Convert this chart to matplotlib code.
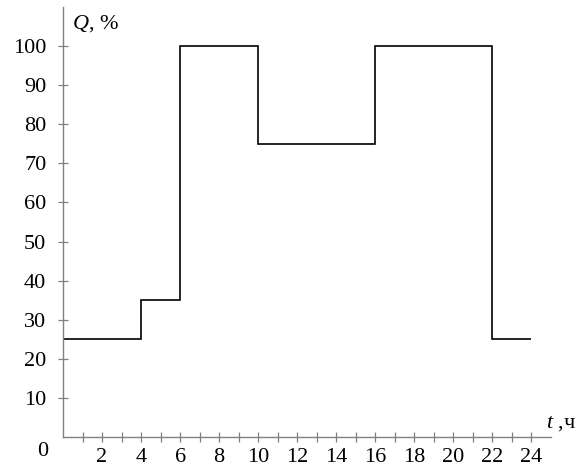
import matplotlib.pyplot as plt

plt.rcParams['font.family'] = ['Liberation Serif', 'DejaVu Serif']
plt.rcParams['mathtext.fontset'] = 'custom'
plt.rcParams['mathtext.rm'] = 'Liberation Serif'
plt.rcParams['mathtext.it'] = 'Liberation Serif:italic'

# step edges (hours) and load levels (%)
hours = [0, 4, 6, 10, 16, 22, 24]
load = [25, 35, 100, 75, 100, 25]
x_labels = [2, 4, 6, 8, 10, 12, 14, 16, 18, 20, 22, 24]
y_labels = [10, 20, 30, 40, 50, 60, 70, 80, 90, 100]

fig = plt.figure(figsize=(5.86, 4.70), dpi=100)
ax = fig.add_axes([0.1075, 0.0702, 0.940 - 0.1075, 0.985 - 0.0702])

ax.stairs(load, hours, color='black', linewidth=1.2, baseline=None)

ax.set_xlim(0, 25)
ax.set_ylim(0, 110)
for side in ['top', 'right']:
    ax.spines[side].set_visible(False)
for side in ['left', 'bottom']:
    ax.spines[side].set_color('#808080')
    ax.spines[side].set_linewidth(1.0)

ax.set_xticks(x_labels)
ax.set_xticks(range(1, 25), minor=True)
ax.set_yticks(y_labels)
ax.tick_params(axis='both', which='both', direction='inout', color='#808080',
               length=7, width=0.9, labelsize=16)
ax.tick_params(axis='y', pad=8.5)
ax.tick_params(axis='x', pad=4.5)

ax.text(-0.031, -0.012, '0', transform=ax.transAxes, fontsize=16,
        ha='right', va='top')
ax.text(0.018, 0.985, r'$Q$, %', transform=ax.transAxes, fontsize=16,
        ha='left', va='top')
ax.text(0.99, 0.023, r'$t$ ,ч', transform=ax.transAxes, fontsize=16,
        ha='left', va='baseline', clip_on=False)

fig.savefig('out.png', dpi=100)
